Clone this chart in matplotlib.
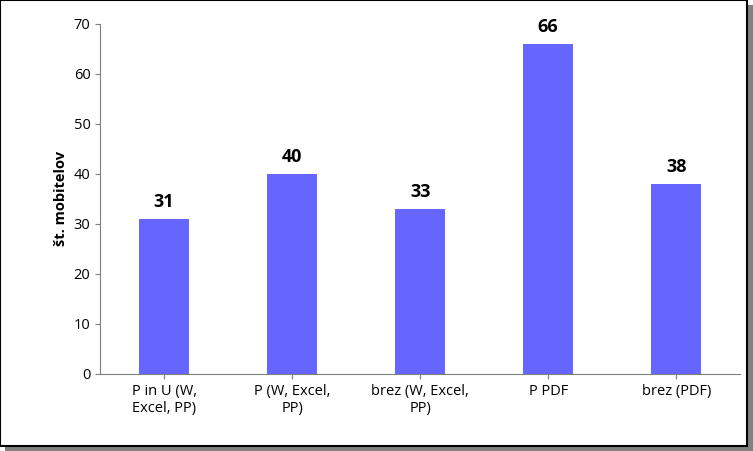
import matplotlib
matplotlib.use("Agg")
import matplotlib.pyplot as plt
from matplotlib.patches import Rectangle

categories = ["P in U (W,\nExcel, PP)", "P (W, Excel,\nPP)", "brez (W, Excel,\nPP)", "P PDF", "brez (PDF)"]
values = [31, 40, 33, 66, 38]
yticks = [0, 10, 20, 30, 40, 50, 60, 70]

plt.rcParams["font.family"] = "Open Sans"
fig = plt.figure(figsize=(7.53, 4.51), dpi=100)
# border with shadow
fig.patches.append(Rectangle((0.006, 0.0), 0.994, 0.99, transform=fig.transFigure, facecolor="#808080", edgecolor="none", zorder=0))
fig.patches.append(Rectangle((0.0, 0.012), 0.992, 0.988, transform=fig.transFigure, facecolor="white", edgecolor="black", linewidth=1.5, zorder=1))

ax = fig.add_axes([0.133, 0.171, 0.85, 0.776])
ax.set_zorder(5)
ax.patch.set_alpha(0)
x = range(len(values))
bars = ax.bar(x, values, width=0.39, color="#6666FF")
for xi, v in zip(x, values):
    ax.text(xi, v + 1.5, str(v), ha="center", va="bottom", fontsize=13, fontweight="bold")
ax.set_xlim(-0.5, len(values) - 0.5)
ax.set_ylim(0, 70)
ax.set_yticks(yticks)
ax.set_xticks(list(x))
ax.set_xticklabels(categories, fontsize=10.5)
ax.tick_params(axis="y", labelsize=10.5)
ax.set_ylabel("št. mobitelov", fontsize=10.5, fontweight="bold")
for s in ["top", "right"]:
    ax.spines[s].set_visible(False)
for s in ["left", "bottom"]:
    ax.spines[s].set_color("#808080")
ax.tick_params(color="#808080")
fig.savefig("out.png", dpi=100)
